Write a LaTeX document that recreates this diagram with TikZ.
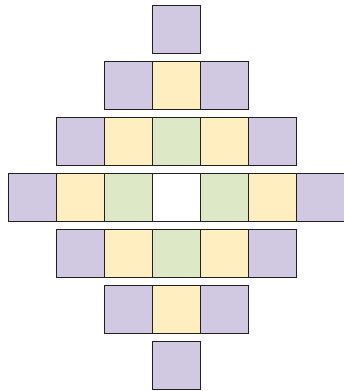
\documentclass[tikz,border=0pt]{standalone}
\definecolor{cpurple}{HTML}{D1C8E1}
\definecolor{cyellow}{HTML}{FFEFC0}
\definecolor{cgreen}{HTML}{DCE8C6}
\definecolor{cborder}{HTML}{231F20}
\tikzset{
  cell/.style={draw=cborder, line width=0.9pt, minimum size=48pt, inner sep=0pt, outer sep=0pt, anchor=north west},
  d0/.style={cell, fill=white},
  d1/.style={cell, fill=cgreen},
  d2/.style={cell, fill=cyellow},
  d3/.style={cell, fill=cpurple}
}
\begin{document}
\begin{tikzpicture}[x=1pt,y=-1pt]
\useasboundingbox (0,0) rectangle (344,391);
\foreach \r in {0,...,6}{
  \pgfmathtruncatemacro{\off}{abs(\r-3)}
  \pgfmathtruncatemacro{\last}{6-\off}
  \foreach \c in {\off,...,\last}{
    \pgfmathtruncatemacro{\dist}{abs(\c-3)+abs(\r-3)}
    \node[d\dist] (s\r\c) at ({8+48*\c},{5.3+56*\r}) {};
  }
}
\end{tikzpicture}
\end{document}
